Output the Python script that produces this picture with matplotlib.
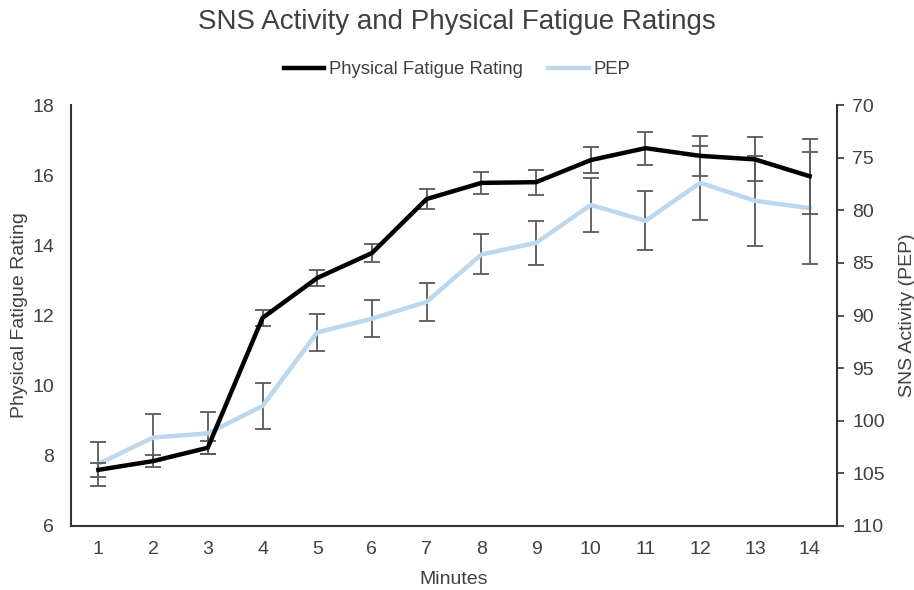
import numpy as np
import matplotlib.pyplot as plt
from matplotlib.lines import Line2D

plt.rcParams['font.family'] = ['Liberation Sans', 'DejaVu Sans']

minutes = list(range(1, 15))

fatigue = [7.6, 7.85, 8.23, 11.93, 13.07, 13.78, 15.32, 15.78, 15.8, 16.43, 16.77, 16.55, 16.45, 15.97]
fatigue_err = [0.2, 0.17, 0.18, 0.23, 0.24, 0.25, 0.28, 0.31, 0.36, 0.37, 0.47, 0.58, 0.63, 1.07]

pep = [104.1, 101.6, 101.2, 98.6, 91.6, 90.3, 88.7, 84.2, 83.1, 79.5, 81.0, 77.4, 79.1, 79.8]
pep_err = [2.06, 2.2, 2.0, 2.2, 1.75, 1.77, 1.8, 1.9, 2.1, 2.6, 2.8, 3.5, 4.3, 5.3]

black = '#000000'
blue = '#bdd7ee'
err_col = '#595959'
txt = '#404040'

fig = plt.figure(figsize=(9.14, 5.90), dpi=100)
ax = fig.add_axes([71 / 914, 64 / 590, (837 - 71) / 914, (526 - 105) / 590])
ax2 = ax.twinx()

# PEP on the inverted right axis
ax2.errorbar(minutes, pep, yerr=pep_err, color=blue, lw=3.2, ecolor=err_col,
             elinewidth=1.3, capsize=6, capthick=1.3, zorder=2)
ax2.set_ylim(110, 70)
ax2.set_yticks(np.arange(70, 111, 5))

ax.errorbar(minutes, fatigue, yerr=fatigue_err, color=black, lw=3.2, ecolor=err_col,
            elinewidth=1.3, capsize=6, capthick=1.3, zorder=3)
ax.set_zorder(ax2.get_zorder() + 1)
ax.patch.set_visible(False)

ax.set_xlim(0.5, 14.5)
ax.set_ylim(6, 18)
ax.set_yticks(np.arange(6, 19, 2))
ax.set_xticks(minutes)

for a in (ax, ax2):
    for s in a.spines.values():
        s.set_visible(False)
ax.spines['left'].set_visible(True)
ax.spines['bottom'].set_visible(True)
ax2.spines['right'].set_visible(True)
for s in (ax.spines['left'], ax.spines['bottom'], ax2.spines['right']):
    s.set_color('#333333')
    s.set_linewidth(1.5)

ax.tick_params(axis='both', length=0, labelsize=14, labelcolor=txt)
ax.tick_params(axis='x', pad=11)
ax.tick_params(axis='y', pad=12)
ax2.tick_params(axis='y', length=5, width=1.2, color='#333333', labelsize=14,
                labelcolor=txt, pad=6)

ax.set_xlabel('Minutes', fontsize=14, color=txt, labelpad=9)
ax.set_ylabel('Physical Fatigue Rating', fontsize=14, color=txt, labelpad=3)
ax2.set_ylabel('SNS Activity (PEP)', fontsize=14, color=txt, labelpad=10)

fig.suptitle('SNS Activity and Physical Fatigue Ratings', fontsize=20, color=txt, y=0.985)

handles = [Line2D([], [], color=black, lw=3.2), Line2D([], [], color=blue, lw=3.2)]
fig.legend(handles, ['Physical Fatigue Rating', 'PEP'], loc='center',
           bbox_to_anchor=(0.5, 1 - 70 / 590), ncol=2, frameon=False,
           fontsize=13.3, handlelength=2.2, handletextpad=0.27, columnspacing=1.35,
           labelcolor=txt)

fig.savefig('out.png', dpi=100)
